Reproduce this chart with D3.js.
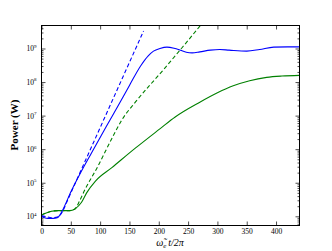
<!DOCTYPE html>
<html>
<head>
<meta charset="utf-8">
<script src="https://cdn.jsdelivr.net/npm/d3@7"></script>
<style>
  body { margin: 0; background: #fff; }
  svg text { font-family: "Liberation Serif", "DejaVu Serif", serif; }
</style>
</head>
<body>
<div id="chart"></div>
<script>
// x values in units of omega_e t / 2pi, power in W
const blueX = [0, 5, 11, 20, 27, 31, 35, 51, 68, 85, 110, 134, 150, 169, 182, 191, 202, 214, 226, 237, 247, 257, 270, 288, 304, 320, 350, 372, 396, 420, 440];
const blueP = [1.0e4, 9.1e3, 8.7e3, 8.7e3, 9.1e3, 1.07e4, 1.41e4, 5.75e4, 2.19e5, 7.59e5, 4.57e6, 2.51e7, 7.94e7, 3.02e8, 6.03e8, 8.32e8, 1.0e9, 1.10e9, 1.02e9, 8.91e8, 7.76e8, 7.41e8, 7.94e8, 8.91e8, 9.33e8, 8.91e8, 8.32e8, 9.33e8, 1.10e9, 1.12e9, 1.12e9];

const blueLinX = [0, 8, 17, 25, 31, 36, 45, 174];
const blueLinP = [1.05e4, 9.8e3, 9.1e3, 9.3e3, 1.05e4, 1.41e4, 3.16e4, 3.31e9];

const greenX = [0, 8, 17, 28, 48, 57, 68, 77, 92, 120, 160, 203, 228, 270, 300, 327, 355, 384, 410, 440];
const greenP = [1.10e4, 1.26e4, 1.41e4, 1.48e4, 1.48e4, 1.66e4, 2.57e4, 5.0e4, 1.12e5, 2.82e5, 1.07e6, 4.17e6, 9.12e6, 2.51e7, 4.79e7, 7.76e7, 1.10e8, 1.38e8, 1.51e8, 1.58e8];

const greenLinX = [0, 8, 17, 28, 48, 57, 65, 74.5, 94, 123, 137, 160, 208.6, 240, 271];
const greenLinP = [1.10e4, 1.26e4, 1.41e4, 1.48e4, 1.48e4, 1.66e4, 2.88e4, 6.46e4, 2.63e5, 2.63e6, 7.41e6, 2.51e7, 2.40e8, 1.07e9, 4.84e9];

const xTicks = [0, 50, 100, 150, 200, 250, 300, 350, 400];
const yTicks = [1e4, 1e5, 1e6, 1e7, 1e8, 1e9];
const xDomain = [0, 440];
const yDomain = [5.32e3, 4.84e9];

const margin = { top: 25, right: 33, bottom: 26, left: 41 };
const width = 332 - margin.left - margin.right;
const height = 251 - margin.top - margin.bottom;

const svg = d3.select("#chart")
  .append("svg")
  .attr("width", 332)
  .attr("height", 251);

const g = svg.append("g")
  .attr("transform", `translate(${margin.left + 0.5}, ${margin.top + 0.5})`);

const x = d3.scaleLinear().domain(xDomain).range([0, width]);
const y = d3.scaleLog().domain(yDomain).range([height, 0]);

// minor log ticks
const minorTicks = [];
for (let e = 3; e <= 9; e++) {
  for (let m = 2; m <= 9; m++) {
    const v = m * Math.pow(10, e);
    if (v > yDomain[0] && v < yDomain[1]) minorTicks.push(v);
  }
}

function styleAxis(sel) {
  sel.select(".domain").remove();
  sel.selectAll(".tick line").attr("stroke", "#000").attr("stroke-width", 0.7);
  sel.selectAll("text").attr("fill", "#000").attr("font-size", 7.5);
}

// x axis bottom and top
g.append("g")
  .attr("transform", `translate(0, ${height})`)
  .call(d3.axisBottom(x).tickValues(xTicks).tickSizeInner(-4).tickSizeOuter(0).tickPadding(3))
  .call(styleAxis);

g.append("g")
  .call(d3.axisTop(x).tickValues(xTicks).tickSizeInner(-4).tickSizeOuter(0).tickFormat(""))
  .call(styleAxis);

// y axis left and right, major + minor
const yLeft = g.append("g")
  .call(d3.axisLeft(y).tickValues(yTicks).tickSizeInner(-4).tickSizeOuter(0).tickPadding(5).tickFormat(""))
  .call(styleAxis);

yLeft.selectAll(".tick text").each(function(d) {
  const t = d3.select(this);
  t.text("10");
  t.append("tspan")
    .attr("dy", -3.5)
    .attr("font-size", 5)
    .text(Math.round(Math.log10(d)));
});

g.append("g")
  .call(d3.axisLeft(y).tickValues(minorTicks).tickSizeInner(-2).tickSizeOuter(0).tickFormat(""))
  .call(styleAxis);

g.append("g")
  .attr("transform", `translate(${width}, 0)`)
  .call(d3.axisRight(y).tickValues(yTicks).tickSizeInner(-4).tickSizeOuter(0).tickFormat(""))
  .call(styleAxis);

g.append("g")
  .attr("transform", `translate(${width}, 0)`)
  .call(d3.axisRight(y).tickValues(minorTicks).tickSizeInner(-2).tickSizeOuter(0).tickFormat(""))
  .call(styleAxis);

// curves
const series = [
  { xs: greenLinX, ps: greenLinP, color: "#008000", dash: "4,2.5" },
  { xs: blueLinX, ps: blueLinP, color: "#0000ff", dash: "4,2.5" },
  { xs: greenX, ps: greenP, color: "#008000", dash: null },
  { xs: blueX, ps: blueP, color: "#0000ff", dash: null }
];

const line = d3.line()
  .x(d => x(d[0]))
  .y(d => y(d[1]))
  .curve(d3.curveMonotoneX);

g.append("clipPath").attr("id", "clip")
  .append("rect").attr("width", width).attr("height", height);

g.append("g").attr("clip-path", "url(#clip)")
  .selectAll("path")
  .data(series)
  .enter()
  .append("path")
  .attr("d", s => line(s.xs.map((v, i) => [v, s.ps[i]])))
  .attr("fill", "none")
  .attr("stroke", s => s.color)
  .attr("stroke-width", 1.1)
  .attr("stroke-dasharray", s => s.dash);

// frame
g.append("rect")
  .attr("width", width)
  .attr("height", height)
  .attr("fill", "none")
  .attr("stroke", "#000")
  .attr("stroke-width", 1);

// labels
svg.append("text")
  .attr("transform", `translate(18, ${margin.top + height / 2}) rotate(-90)`)
  .attr("text-anchor", "middle")
  .attr("font-size", 11)
  .attr("font-weight", "bold")
  .text("Power (W)");

const xl = svg.append("text")
  .attr("x", margin.left + width / 2)
  .attr("y", 246)
  .attr("text-anchor", "middle")
  .attr("font-size", 10)
  .attr("font-style", "italic");
xl.append("tspan").text("\u03C9\u0303");
xl.append("tspan").attr("font-size", 7).attr("dy", 2).text("e");
xl.append("tspan").attr("dy", -2).text("\u2009t/2\u03C0");
</script>
</body>
</html>
